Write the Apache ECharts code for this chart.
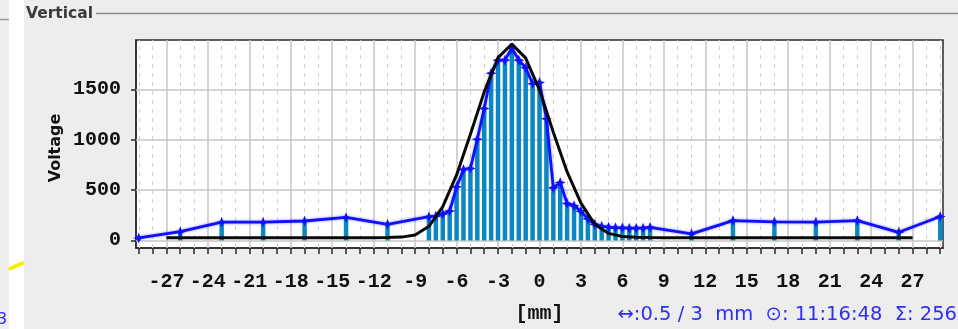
<!DOCTYPE html>
<html>
<head>
<meta charset="utf-8">
<script src="https://cdn.jsdelivr.net/npm/echarts@6/dist/echarts.min.js"></script>
<style>
  html, body { margin: 0; padding: 0; background: #ededed; }
  #chart { width: 958px; height: 329px; }
</style>
</head>
<body>
<div id="chart"></div>
<script>
// Wire positions of the profile monitor [mm]: 3 mm pitch outside, 0.5 mm in the centre
const wirePos = [
  -29, -26, -23, -20, -17, -14, -11,
  -8, -7.5, -7, -6.5, -6, -5.5, -5, -4.5, -4, -3.5, -3, -2.5, -2, -1.5, -1, -0.5,
  0, 0.5, 1, 1.5, 2, 2.5, 3, 3.5, 4, 4.5, 5, 5.5, 6, 6.5, 7, 7.5, 8,
  11, 14, 17, 20, 23, 26, 29
];
// Measured voltage per wire
const wireVoltage = [
  25, 87, 181, 181, 193, 228, 160,
  236, 242, 262, 292, 530, 705, 715, 1005, 1310, 1660, 1790, 1790, 1910, 1790, 1715, 1555,
  1568, 1208, 522, 575, 366, 345, 290, 215, 160, 140, 132, 127, 125, 122, 122, 122, 130,
  66, 197, 185, 181, 197, 81, 238
];
// Gaussian fit curve sampled every 1 mm
const fitPos = [
  -27, -26, -25, -24, -23, -22, -21, -20, -19, -18, -17, -16, -15, -14, -13, -12,
  -11, -10, -9, -8, -7, -6, -5, -4, -3, -2, -1, 0, 1, 2, 3, 4, 5, 6, 7, 8,
  9, 10, 11, 12, 13, 14, 15, 16, 17, 18, 19, 20, 21, 22, 23, 24, 25, 26, 27
];
const fitVoltage = [
  28, 28, 28, 28, 28, 28, 28, 28, 28, 28, 28, 28, 28, 28, 28, 28,
  29, 33, 55, 140, 335, 650, 1055, 1475, 1815, 1950, 1810, 1495, 1075, 680, 370, 160, 70, 40, 31, 29,
  28, 28, 28, 28, 28, 28, 28, 28, 28, 28, 28, 28, 28, 28, 28, 28, 28, 28, 28
];
// Axis ticks and grid lines
const xLabelTicks = [-27, -24, -21, -18, -15, -12, -9, -6, -3, 0, 3, 6, 9, 12, 15, 18, 21, 24, 27];
const xDashedLines = [-29, -28, -26, -25, -23, -22, -20, -19, -17, -16, -14, -13, -11, -10, -8, -7, -5, -4, -2, -1,
  1, 2, 4, 5, 7, 8, 10, 11, 13, 14, 16, 17, 19, 20, 22, 23, 25, 26, 28, 29];
const xAllTicks = [-29, -28, -27, -26, -25, -24, -23, -22, -21, -20, -19, -18, -17, -16, -15, -14, -13, -12, -11, -10,
  -9, -8, -7, -6, -5, -4, -3, -2, -1, 0, 1, 2, 3, 4, 5, 6, 7, 8, 9, 10, 11, 12, 13, 14, 15, 16, 17, 18, 19, 20,
  21, 22, 23, 24, 25, 26, 27, 28, 29];
const yLabelTicks = [0, 500, 1000, 1500];

const panelTitle = 'Vertical';
const yTitle = 'Voltage';
const xTitle = '[mm]';
const footerText = '\u2194:0.5 / 3  mm  \u2299: 11:16:48  \u03A3: 256';

const X_MIN = -29.2, X_MAX = 29.2;
const Y_MIN = -75, Y_MAX = 1990;

const monoFont = '"Liberation Mono", "DejaVu Sans Mono", monospace';
const sansFont = '"DejaVu Sans", "Liberation Sans", sans-serif';

const barData = wirePos.map((x, i) => [x, wireVoltage[i]]);
const fitData = fitPos.map((x, i) => [x, fitVoltage[i]]);

const starSymbol = 'path://M5,0 L6.4,3.6 L10,5 L6.4,6.4 L5,10 L3.6,6.4 L0,5 L3.6,3.6 Z';
const plainNumber = v => String(v);

// grid lines as mark lines of an empty helper series, placed through the axes
const solidGrid = { color: '#c6c6c6', width: 1.5, type: 'solid' };
const dashedGrid = { color: '#d0d0d0', width: 1, type: [4, 5] };
const gridLineData = []
  .concat(xLabelTicks.map(v => ({ xAxis: v, lineStyle: solidGrid })))
  .concat(xDashedLines.map(v => ({ xAxis: v, lineStyle: dashedGrid })))
  .concat(yLabelTicks.map(v => ({ yAxis: v, lineStyle: solidGrid })));

const chart = echarts.init(document.getElementById('chart'), null, { renderer: 'canvas' });
chart.setOption({
  animation: false,
  backgroundColor: '#ededed',
  grid: {
    left: 136, right: 15, top: 40, bottom: 69,
    show: true, backgroundColor: '#ffffff', borderColor: '#2a2a2a', borderWidth: 1.5
  },
  xAxis: {
    type: 'value', min: X_MIN, max: X_MAX, position: 'bottom',
    name: xTitle, nameLocation: 'middle', nameGap: 56,
    nameTextStyle: { fontFamily: monoFont, fontWeight: 'bold', fontSize: 20, color: '#111' },
    axisLine: { show: true, onZero: false, lineStyle: { color: '#2a2a2a', width: 1.5 } },
    axisTick: { show: true, customValues: xAllTicks, length: 6, lineStyle: { color: '#2a2a2a', width: 1.5 } },
    axisLabel: {
      customValues: xLabelTicks, margin: 24, formatter: plainNumber,
      fontFamily: monoFont, fontWeight: 'bold', fontSize: 20, color: '#111'
    },
    splitLine: { show: false }
  },
  yAxis: {
    type: 'value', min: Y_MIN, max: Y_MAX,
    axisLine: { show: true, onZero: false, lineStyle: { color: '#2a2a2a', width: 1.5 } },
    axisTick: { show: true, customValues: yLabelTicks, length: 5, lineStyle: { color: '#2a2a2a', width: 1.5 } },
    axisLabel: {
      customValues: yLabelTicks, margin: 15, formatter: plainNumber,
      fontFamily: monoFont, fontWeight: 'bold', fontSize: 20, color: '#111'
    },
    splitLine: { show: false }
  },
  series: [
    {
      type: 'line', data: [], z: 1, silent: true,
      markLine: {
        z: 1, silent: true, symbol: 'none', animation: false,
        label: { show: false }, emphasis: { disabled: true },
        data: gridLineData
      }
    },
    {
      type: 'bar', data: barData, barWidth: 4.5,
      itemStyle: { color: '#0b87c3' }, z: 2
    },
    {
      type: 'line', data: barData,
      symbol: starSymbol, symbolSize: 11, showSymbol: true,
      lineStyle: { color: '#1010ff', width: 2.8, shadowBlur: 3, shadowColor: 'rgba(0,0,255,0.45)' },
      itemStyle: { color: '#1010ff' }, z: 3
    },
    {
      type: 'line', data: fitData, symbol: 'none',
      lineStyle: { color: '#0a0a0a', width: 3 }, z: 4
    }
  ],
  graphic: [
    // neighbouring panel strip on the left edge
    { type: 'rect', shape: { x: 9, y: 0, width: 15, height: 329 }, style: { fill: '#ffffff' }, silent: true },
    { type: 'line', shape: { x1: 0, y1: 19.5, x2: 9, y2: 19.5 }, style: { stroke: '#9a9a9a', lineWidth: 1.5 }, silent: true },
    { type: 'line', shape: { x1: 9, y1: 269, x2: 24, y2: 262.5 }, style: { stroke: '#f5f000', lineWidth: 4 }, silent: true },
    { type: 'text', x: -3, y: 320, style: { text: '3', fill: '#2a2aff', font: '16px ' + sansFont, verticalAlign: 'middle' }, silent: true },
    // titled border of the panel
    { type: 'line', shape: { x1: 96, y1: 13.5, x2: 958, y2: 13.5 }, style: { stroke: '#8c8c8c', lineWidth: 1.5 }, silent: true },
    { type: 'text', x: 26, y: 14, style: { text: panelTitle, fill: '#3a3a3a', font: 'bold 15.5px ' + sansFont, verticalAlign: 'middle' }, silent: true },
    // y axis title, rotated
    { type: 'text', x: 56, y: 148, rotation: Math.PI / 2,
      style: { text: yTitle, fill: '#111', font: 'bold 16px ' + sansFont, align: 'center', verticalAlign: 'middle' }, silent: true },
    // status line under the chart
    { type: 'text', x: 957, y: 315, style: { text: footerText, fill: '#2e2ef5', font: '19.5px ' + sansFont, align: 'right', verticalAlign: 'middle' }, silent: true }
  ]
});
</script>
</body>
</html>
